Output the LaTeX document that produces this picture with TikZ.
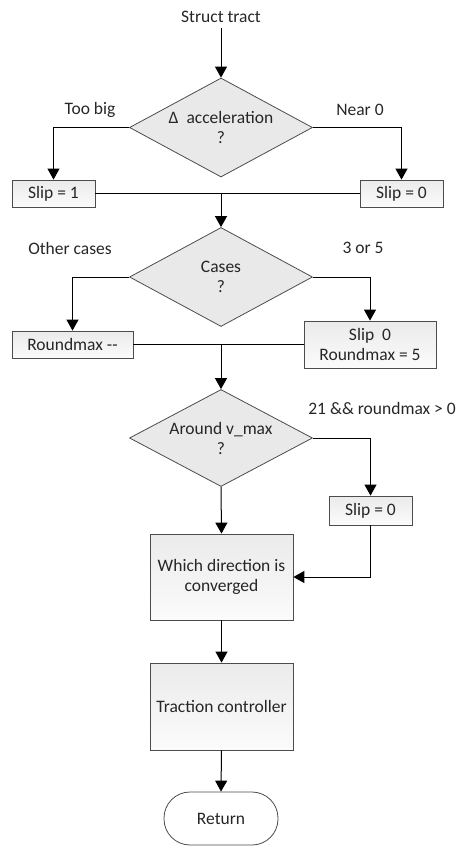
\documentclass[tikz,border=0pt]{standalone}
\usepackage{fontspec}
\setmainfont{Carlito}
\usepackage{tikz}
\usetikzlibrary{arrows.meta,calc,positioning,shapes.geometric}
\tikzset{%
	block/.style    = {draw=gray!60!black, line width=0.8pt, rectangle, top color=gray!16, bottom color=gray!3, inner sep=0pt, align=center}, % Process
	decision/.style = {draw=gray!60!black, line width=0.8pt, diamond, fill=gray!17, inner sep=0pt, minimum width=183pt, minimum height=99pt}, % Test
	dtext/.style    = {align=center}, % Text inside a test
	terminal/.style = {draw=gray!60!black, line width=0.8pt, rectangle, rounded corners=26pt, top color=white, bottom color=white, minimum width=114pt, minimum height=53pt}, % End
	lbl/.style      = {inner sep=0pt}, % Branch label
	waypoint/.style = {coordinate}, % Join
	arrow/.style    = {line width=1pt, -{Triangle[length=11pt,width=12pt]}},
	line/.style     = {line width=1pt},
}

\begin{document}
\begin{tikzpicture}[x=1pt, y=-1pt, font=\fontsize{17.5}{20}\selectfont, text=black!85]
	\useasboundingbox (0,0) rectangle (458,846);

	\node[lbl] (start) at (221,17) {Struct tract};
	\node[decision] (d1) at (221,127.5) {};
	\node[dtext] (d1t) at (d1) {Δ\ \ acceleration\\?};
	\node[block, minimum width=83pt, minimum height=27pt] (slip1) at (53.5,193.5) {Slip = 1};
	\node[block, minimum width=83pt, minimum height=27pt] (slip0a) at (401.5,193.5) {Slip = 0};
	\node[lbl] (toobig) at (90,110) {Too big};
	\node[lbl] (near0) at (360,110) {Near 0};
	\node[waypoint] (m1) at (221,193.5) {};

	\node[decision] (d2) at (221,277) {};
	\node[dtext] (d2t) at (d2) {Cases\\?};
	\node[lbl] (other) at (70,248) {Other cases};
	\node[lbl] (three) at (363,248) {3 or 5};
	\node[block, minimum width=121pt, minimum height=27pt] (rmax) at (72.5,344.5) {Roundmax -{}-};
	\node[block, minimum width=132pt, minimum height=47pt] (slip0b) at (370,344.5) {Slip\ \ 0\\Roundmax = 5};
	\node[waypoint] (m2) at (221,344.5) {};

	\node[decision, minimum height=97pt] (d3) at (221,438) {};
	\node[dtext] (d3t) at (d3) {Around v\_max\\?};
	\node[lbl, anchor=east] (cond) at (456,408) {21 \&\& roundmax > 0};
	\node[block, minimum width=83pt, minimum height=29pt] (slip0c) at (370.5,510.5) {Slip = 0};

	\node[block, minimum width=143pt, minimum height=86pt] (dir) at (221.5,577) {Which direction is\\converged};
	\node[block, minimum width=143pt, minimum height=87pt] (trac) at (221.5,706.5) {Traction controller};
	\node[terminal] (ret) at (221,818.5) {Return};

	\draw[arrow] ($(start.south)+(0,5)$) -- (d1.north);
	\draw[arrow] (d1.west) -| (slip1.north);
	\draw[arrow] (d1.east) -| (slip0a.north);
	\draw[line] (slip1.east) -- (slip0a.west);
	\draw[arrow] (m1) -- (d2.north);
	\draw[arrow] (d2.west) -| (rmax.north);
	\draw[arrow] (d2.east) -| (slip0b.north);
	\draw[line] (rmax.east) -- (slip0b.west);
	\draw[arrow] (m2) -- (d3.north);
	\draw[arrow] (d3.east) -| (slip0c.north);
	\draw[arrow] (d3.south) -- (dir.north);
	\draw[arrow] (slip0c.south) |- (dir.east);
	\draw[arrow] (dir.south) -- (trac.north);
	\draw[arrow] (trac.south) -- (ret.north);
\end{tikzpicture}
\end{document}
